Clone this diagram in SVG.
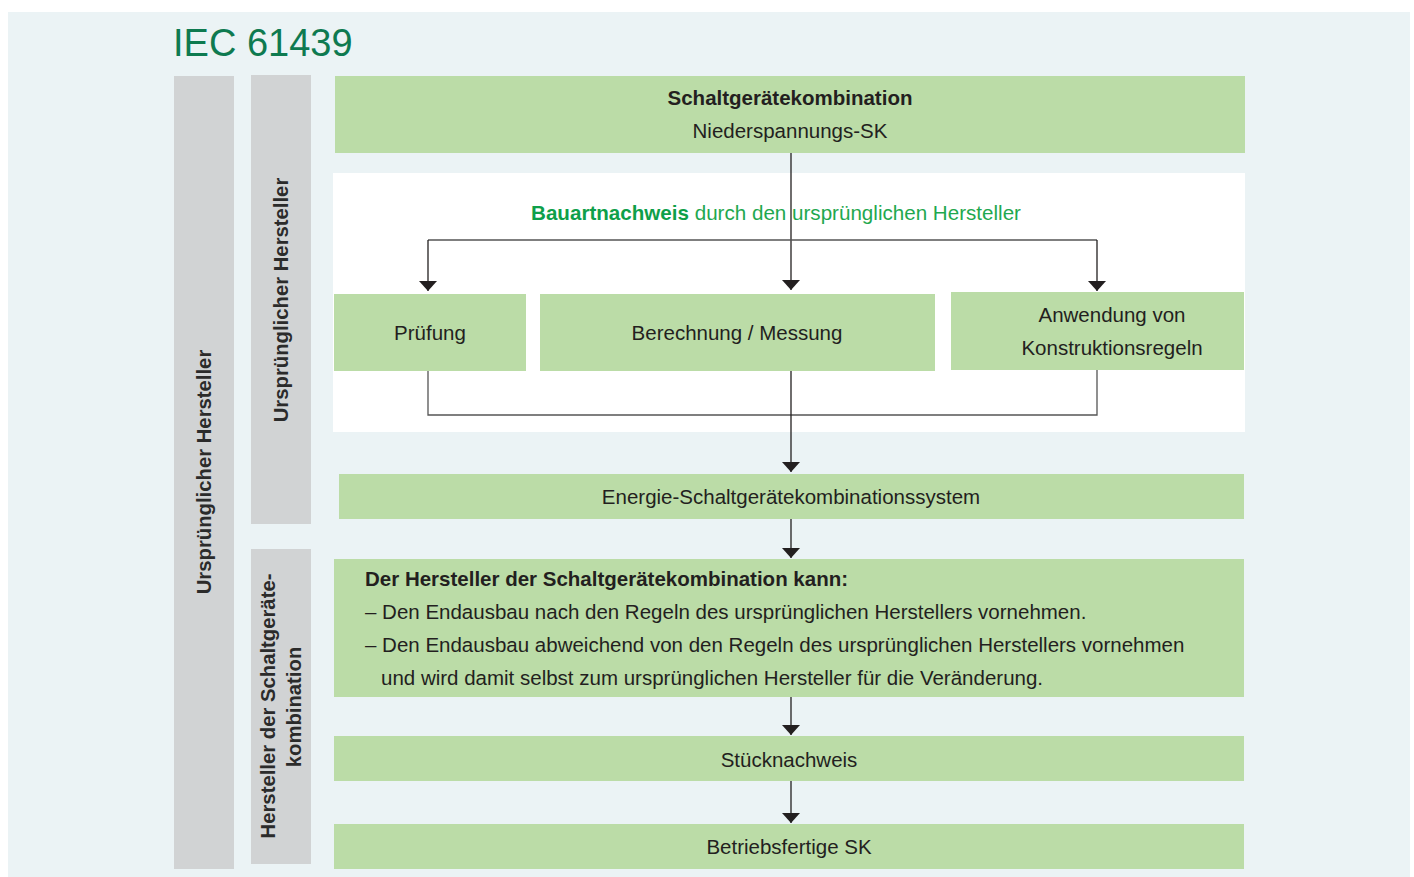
<svg xmlns="http://www.w3.org/2000/svg" width="1414" height="877" viewBox="0 0 1414 877">
<style>
.t{font-family:"Liberation Sans",Arial,sans-serif;font-size:20.5px;fill:#231F20}
.b{font-weight:bold}
.g{fill:#BBDCA7}
.s{fill:#D1D3D4}
.c{stroke:#231F20;stroke-width:1.3;fill:none}
.h{stroke:#555;stroke-width:1.3;fill:none}
.side{font-family:"Liberation Sans",Arial,sans-serif;font-size:20.3px;font-weight:bold;fill:#2b2b2b}
</style>
<defs>
<marker id="a" viewBox="0 0 10 18" refX="10" refY="9" markerWidth="10" markerHeight="18" markerUnits="userSpaceOnUse" orient="auto">
<path d="M0,0 L10,9 L0,18 Z" fill="#231F20"/>
</marker>
</defs>
<rect width="1414" height="877" fill="#ffffff"/>
<rect x="8" y="12" width="1402" height="865" fill="#EBF3F5"/>
<text x="173" y="56" font-family="Liberation Sans,Arial,sans-serif" font-size="38" fill="#0E7A50">IEC 61439</text>
<g id="side1"><rect class="s" x="174" y="76" width="60" height="793"/>
<text class="side" transform="translate(211,472) rotate(-90)" text-anchor="middle">Ursprünglicher Hersteller</text></g>
<g id="side2"><rect class="s" x="251" y="75" width="60" height="449"/>
<text class="side" transform="translate(288,300) rotate(-90)" text-anchor="middle">Ursprünglicher Hersteller</text></g>
<g id="side3"><rect class="s" x="251" y="549" width="60" height="315"/>
<text class="side" transform="translate(275,706) rotate(-90)" text-anchor="middle">Hersteller der Schaltgeräte-</text>
<text class="side" transform="translate(301,707) rotate(-90)" text-anchor="middle">kombination</text></g>
<g id="panel"><rect x="333" y="173" width="912" height="259" fill="#ffffff"/>
<text x="776" y="220" text-anchor="middle" font-family="Liberation Sans,Arial,sans-serif" font-size="20.6" fill="#1FA84F"><tspan font-weight="bold" fill="#0E9F4A">Bauartnachweis</tspan> durch den ursprünglichen Hersteller</text></g>
<g id="top"><rect class="g" x="335" y="76" width="910" height="77"/>
<text class="t b" x="790" y="105" text-anchor="middle">Schaltgerätekombination</text>
<text class="t" x="790" y="138" text-anchor="middle">Niederspannungs-SK</text></g>
<g id="connectors">
<path class="c" d="M791,153 V290" marker-end="url(#a)"/>
<path class="h" d="M428,240 H1097"/>
<path class="c" d="M428,240 V291" marker-end="url(#a)"/>
<path class="c" d="M1097,240 V291" marker-end="url(#a)"/>
<path class="h" d="M428,371 V415 H1097 V370"/>
<path class="c" d="M791,371 V472" marker-end="url(#a)"/>
<path class="c" d="M791,519 V558" marker-end="url(#a)"/>
<path class="c" d="M791,697 V735" marker-end="url(#a)"/>
<path class="c" d="M791,781 V823" marker-end="url(#a)"/>
</g>
<g id="pruefung"><rect class="g" x="334" y="294" width="192" height="77"/>
<text class="t" x="430" y="340" text-anchor="middle">Prüfung</text></g>
<g id="berechnung"><rect class="g" x="540" y="294" width="395" height="77"/>
<text class="t" x="737" y="340" text-anchor="middle">Berechnung / Messung</text></g>
<g id="anwendung"><rect class="g" x="951" y="292" width="293" height="78"/>
<text class="t" x="1112" y="322" text-anchor="middle">Anwendung von</text>
<text class="t" x="1112" y="355" text-anchor="middle">Konstruktionsregeln</text></g>
<g id="energie"><rect class="g" x="339" y="474" width="905" height="45"/>
<text class="t" x="791" y="504" text-anchor="middle">Energie-Schaltgerätekombinationssystem</text></g>
<g id="hersteller"><rect class="g" x="334" y="559" width="910" height="138"/>
<text class="t b" x="365" y="586">Der Hersteller der Schaltgerätekombination kann:</text>
<text class="t" x="365" y="619">– Den Endausbau nach den Regeln des ursprünglichen Herstellers vornehmen.</text>
<text class="t" x="365" y="652">– Den Endausbau abweichend von den Regeln des ursprünglichen Herstellers vornehmen</text>
<text class="t" x="381" y="685">und wird damit selbst zum ursprünglichen Hersteller für die Veränderung.</text></g>
<g id="stueck"><rect class="g" x="334" y="736" width="910" height="45"/>
<text class="t" x="789" y="767" text-anchor="middle">Stücknachweis</text></g>
<g id="betrieb"><rect class="g" x="334" y="824" width="910" height="45"/>
<text class="t" x="789" y="854" text-anchor="middle">Betriebsfertige SK</text></g>
</svg>
